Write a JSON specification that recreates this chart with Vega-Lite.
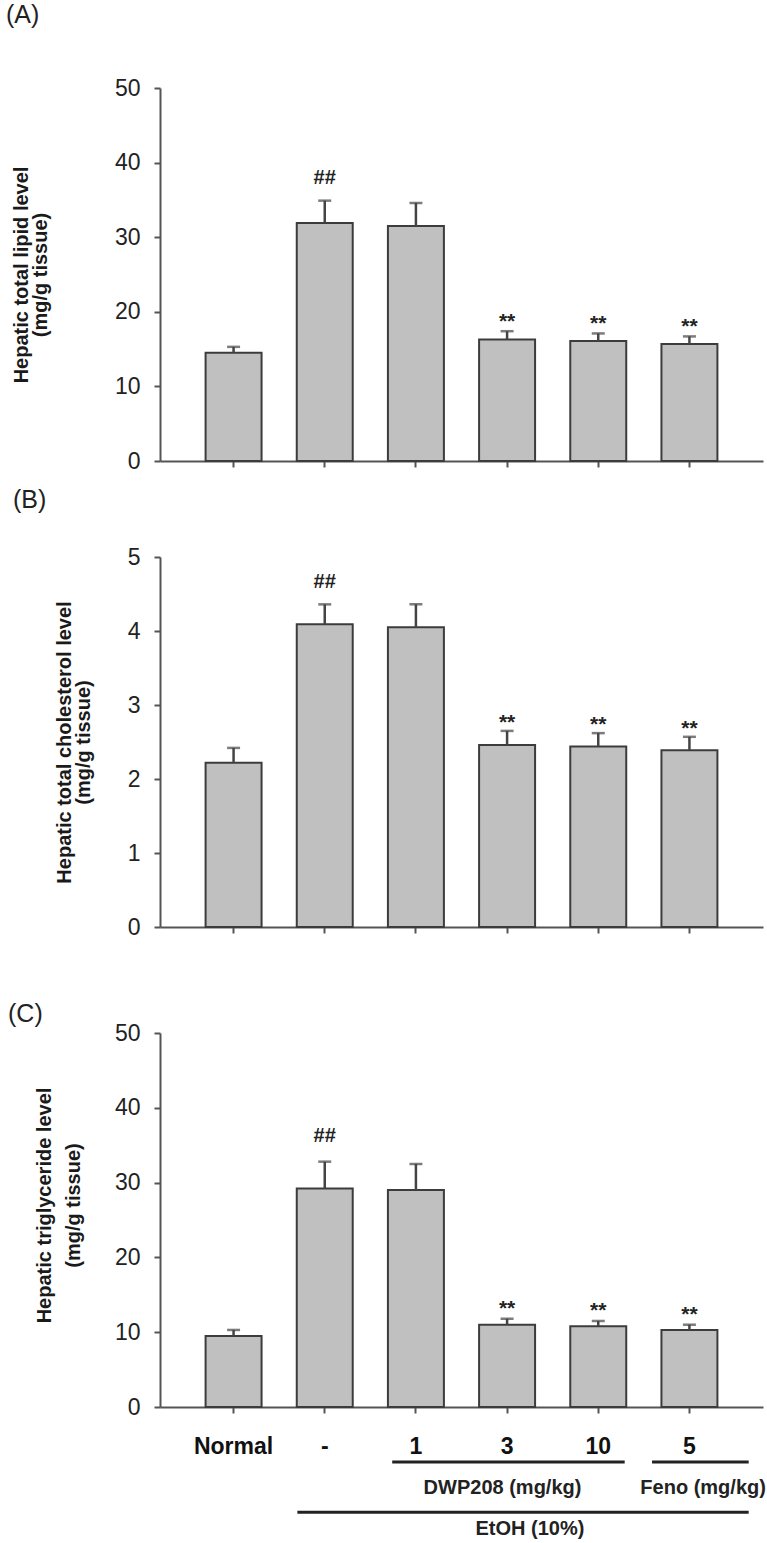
{
  "$schema": "https://vega.github.io/schema/vega-lite/v6.json",
  "background": "white",
  "padding": {"left": 6, "top": 3, "right": 0, "bottom": 0},
  "spacing": 15,
  "datasets": {
    "bars": [
      {"panel": "A", "group": "Normal", "mean": 14.5, "upper": 15.3, "sig": ""},
      {"panel": "A", "group": "-", "mean": 31.9, "upper": 34.9, "sig": "##"},
      {"panel": "A", "group": "1", "mean": 31.5, "upper": 34.6, "sig": ""},
      {"panel": "A", "group": "3", "mean": 16.3, "upper": 17.4, "sig": "**"},
      {"panel": "A", "group": "10", "mean": 16.1, "upper": 17.1, "sig": "**"},
      {"panel": "A", "group": "5", "mean": 15.7, "upper": 16.7, "sig": "**"},
      {"panel": "B", "group": "Normal", "mean": 2.22, "upper": 2.42, "sig": ""},
      {"panel": "B", "group": "-", "mean": 4.09, "upper": 4.36, "sig": "##"},
      {"panel": "B", "group": "1", "mean": 4.05, "upper": 4.36, "sig": ""},
      {"panel": "B", "group": "3", "mean": 2.46, "upper": 2.65, "sig": "**"},
      {"panel": "B", "group": "10", "mean": 2.44, "upper": 2.62, "sig": "**"},
      {"panel": "B", "group": "5", "mean": 2.39, "upper": 2.57, "sig": "**"},
      {"panel": "C", "group": "Normal", "mean": 9.5, "upper": 10.3, "sig": ""},
      {"panel": "C", "group": "-", "mean": 29.2, "upper": 32.8, "sig": "##"},
      {"panel": "C", "group": "1", "mean": 29.0, "upper": 32.5, "sig": ""},
      {"panel": "C", "group": "3", "mean": 11.0, "upper": 11.8, "sig": "**"},
      {"panel": "C", "group": "10", "mean": 10.8, "upper": 11.5, "sig": "**"},
      {"panel": "C", "group": "5", "mean": 10.3, "upper": 11.0, "sig": "**"}
    ],
    "groups": [
      {"label": "DWP208 (mg/kg)", "tier": "dose", "start": 1.74, "end": 4.29, "mid": 2.95},
      {"label": "Feno (mg/kg)", "tier": "dose", "start": 4.59, "end": 5.65, "mid": 5.15},
      {"label": "EtOH (10%)", "tier": "vehicle", "start": 0.70, "end": 5.65, "mid": 3.25}
    ]
  },
  "config": {
    "view": {"stroke": null},
    "font": "Liberation Sans",
    "axis": {
      "grid": false,
      "domainColor": "#555555",
      "domainWidth": 2,
      "tickColor": "#555555",
      "tickWidth": 2,
      "tickSize": 6,
      "labelFont": "Liberation Sans",
      "labelFontSize": 23,
      "labelColor": "#222222",
      "labelPadding": 14,
      "titleFont": "Liberation Sans",
      "titleFontSize": 20,
      "titleFontWeight": "bold",
      "titleColor": "#1a1a1a"
    },
    "title": {"font": "Liberation Sans", "fontSize": 25, "fontWeight": "normal", "color": "#222222", "anchor": "start", "frame": "group", "baseline": "bottom"}
  },
  "vconcat": [
    {
      "width": 603,
      "height": 373,
      "title": {"text": "(A)", "dx": -154, "offset": 49},
      "data": {"name": "bars"},
      "transform": [{"filter": "datum.panel === 'A'"}],
      "encoding": {
        "x": {"field": "group", "type": "nominal", "sort": ["Normal", "-", "1", "3", "10", "5"],
          "scale": {"paddingInner": 0.386, "paddingOuter": 0.5},
          "axis": {"labels": false, "title": null}}
      },
      "layer": [
        {"mark": {"type": "bar", "fill": "#c0c0c0", "stroke": "#3c3c3c", "strokeWidth": 2},
          "encoding": {"y": {"field": "mean", "type": "quantitative", "scale": {"domain": [0, 50]},
            "axis": {"values": [0, 10, 20, 30, 40, 50], "format": "d", "title": ["Hepatic total lipid level", "(mg/g tissue)"], "titleX": -139, "titleBaseline": "middle", "titleLineHeight": 19}}}},
        {"mark": {"type": "rule", "stroke": "#444444", "strokeWidth": 2.5},
          "encoding": {"y": {"field": "mean", "type": "quantitative"}, "y2": {"field": "upper"}}},
        {"mark": {"type": "tick", "color": "#444444", "thickness": 2.5, "size": 13},
          "encoding": {"y": {"field": "upper", "type": "quantitative"}}},
        {"transform": [{"filter": "datum.sig === '##'"}],
          "mark": {"type": "text", "fontSize": 20, "fontWeight": "bold", "color": "#222222", "baseline": "alphabetic", "dy": -17},
          "encoding": {"y": {"field": "upper", "type": "quantitative"}, "text": {"field": "sig"}}},
        {"transform": [{"filter": "datum.sig === '**'"}],
          "mark": {"type": "text", "fontSize": 21, "fontWeight": "bold", "color": "#222222", "baseline": "alphabetic", "dy": -3},
          "encoding": {"y": {"field": "upper", "type": "quantitative"}, "text": {"field": "sig"}}}
      ]
    },
    {
      "width": 603,
      "height": 370,
      "title": {"text": "(B)", "dx": -147, "offset": 33},
      "data": {"name": "bars"},
      "transform": [{"filter": "datum.panel === 'B'"}],
      "encoding": {
        "x": {"field": "group", "type": "nominal", "sort": ["Normal", "-", "1", "3", "10", "5"],
          "scale": {"paddingInner": 0.386, "paddingOuter": 0.5},
          "axis": {"labels": false, "title": " ", "titlePadding": 33, "titleFontSize": 20}}
      },
      "layer": [
        {"mark": {"type": "bar", "fill": "#c0c0c0", "stroke": "#3c3c3c", "strokeWidth": 2},
          "encoding": {"y": {"field": "mean", "type": "quantitative", "scale": {"domain": [0, 5]},
            "axis": {"values": [0, 1, 2, 3, 4, 5], "format": "d", "title": ["Hepatic total cholesterol level", "(mg/g tissue)"], "titleX": -96, "titleBaseline": "middle", "titleLineHeight": 19}}}},
        {"mark": {"type": "rule", "stroke": "#444444", "strokeWidth": 2.5},
          "encoding": {"y": {"field": "mean", "type": "quantitative"}, "y2": {"field": "upper"}}},
        {"mark": {"type": "tick", "color": "#444444", "thickness": 2.5, "size": 13},
          "encoding": {"y": {"field": "upper", "type": "quantitative"}}},
        {"transform": [{"filter": "datum.sig === '##'"}],
          "mark": {"type": "text", "fontSize": 20, "fontWeight": "bold", "color": "#222222", "baseline": "alphabetic", "dy": -16},
          "encoding": {"y": {"field": "upper", "type": "quantitative"}, "text": {"field": "sig"}}},
        {"transform": [{"filter": "datum.sig === '**'"}],
          "mark": {"type": "text", "fontSize": 21, "fontWeight": "bold", "color": "#222222", "baseline": "alphabetic", "dy": -2},
          "encoding": {"y": {"field": "upper", "type": "quantitative"}, "text": {"field": "sig"}}}
      ]
    },
    {
      "width": 603,
      "height": 374,
      "title": {"text": "(C)", "dx": -152, "offset": -5},
      "resolve": {"scale": {"x": "independent"}},
      "layer": [
        {
          "data": {"name": "bars"},
          "transform": [{"filter": "datum.panel === 'C'"}],
          "encoding": {
            "x": {"field": "group", "type": "nominal", "sort": ["Normal", "-", "1", "3", "10", "5"],
              "scale": {"paddingInner": 0.386, "paddingOuter": 0.5},
              "axis": {"title": null, "labelAngle": 0, "labelFontSize": 23, "labelFontWeight": "bold", "labelColor": "#111111", "labelPadding": 22}}
          },
          "layer": [
            {"mark": {"type": "bar", "fill": "#c0c0c0", "stroke": "#3c3c3c", "strokeWidth": 2},
              "encoding": {"y": {"field": "mean", "type": "quantitative", "scale": {"domain": [0, 50]},
                "axis": {"values": [0, 10, 20, 30, 40, 50], "format": "d", "title": ["Hepatic triglyceride level", "(mg/g tissue)"], "titleX": -116, "titleY": 172, "titleBaseline": "middle", "titleLineHeight": 29}}}},
            {"mark": {"type": "rule", "stroke": "#444444", "strokeWidth": 2.5},
              "encoding": {"y": {"field": "mean", "type": "quantitative"}, "y2": {"field": "upper"}}},
            {"mark": {"type": "tick", "color": "#444444", "thickness": 2.5, "size": 13},
              "encoding": {"y": {"field": "upper", "type": "quantitative"}}},
            {"transform": [{"filter": "datum.sig === '##'"}],
              "mark": {"type": "text", "fontSize": 20, "fontWeight": "bold", "color": "#222222", "baseline": "alphabetic", "dy": -20},
              "encoding": {"y": {"field": "upper", "type": "quantitative"}, "text": {"field": "sig"}}},
            {"transform": [{"filter": "datum.sig === '**'"}],
              "mark": {"type": "text", "fontSize": 21, "fontWeight": "bold", "color": "#222222", "baseline": "alphabetic", "dy": -4},
              "encoding": {"y": {"field": "upper", "type": "quantitative"}, "text": {"field": "sig"}}}
          ]
        },
        {
          "data": {"name": "groups"},
          "layer": [
            {"transform": [{"filter": "datum.tier === 'dose'"}],
              "mark": {"type": "rule", "stroke": "#222222", "strokeWidth": 3},
              "encoding": {
                "x": {"field": "start", "type": "quantitative", "scale": {"domain": [-0.807, 5.807], "nice": false, "zero": false}, "axis": null},
                "x2": {"field": "end"},
                "y": {"datum": -7.36, "type": "quantitative"}}},
            {"transform": [{"filter": "datum.tier === 'dose'"}],
              "mark": {"type": "text", "fontSize": 20, "fontWeight": "bold", "color": "#222222", "baseline": "middle"},
              "encoding": {
                "x": {"field": "mid", "type": "quantitative", "scale": {"domain": [-0.807, 5.807], "nice": false, "zero": false}, "axis": null},
                "y": {"datum": -10.84, "type": "quantitative"},
                "text": {"field": "label"}}},
            {"transform": [{"filter": "datum.tier === 'vehicle'"}],
              "mark": {"type": "rule", "stroke": "#222222", "strokeWidth": 3},
              "encoding": {
                "x": {"field": "start", "type": "quantitative", "scale": {"domain": [-0.807, 5.807], "nice": false, "zero": false}, "axis": null},
                "x2": {"field": "end"},
                "y": {"datum": -14.06, "type": "quantitative"}}},
            {"transform": [{"filter": "datum.tier === 'vehicle'"}],
              "mark": {"type": "text", "fontSize": 20, "fontWeight": "bold", "color": "#222222", "baseline": "middle"},
              "encoding": {
                "x": {"field": "mid", "type": "quantitative", "scale": {"domain": [-0.807, 5.807], "nice": false, "zero": false}, "axis": null},
                "y": {"datum": -16.3, "type": "quantitative"},
                "text": {"field": "label"}}}
          ]
        }
      ]
    }
  ]
}
